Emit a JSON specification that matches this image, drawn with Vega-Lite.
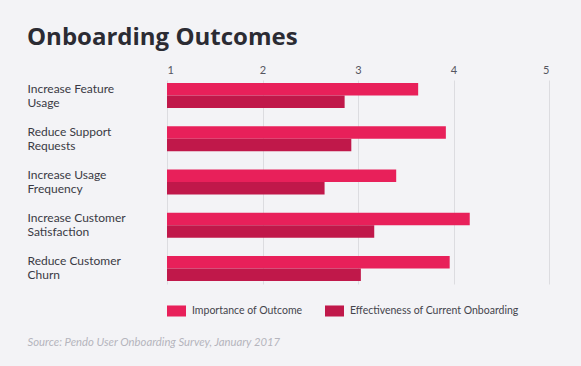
{
  "$schema": "https://vega.github.io/schema/vega-lite/v6.json",
  "autosize": {"type": "none"},
  "width": 382,
  "height": 204,
  "padding": {"left": 167, "top": 80, "right": 32, "bottom": 82},
  "background": "#f3f3f6",
  "config": {"view": {"stroke": null}, "font": "Lato"},
  "title": {
    "text": "Onboarding Outcomes",
    "anchor": "start",
    "frame": "group",
    "dx": -140,
    "offset": 14,
    "fontSize": 24,
    "font": "Open Sans",
    "fontWeight": "bold",
    "color": "#2b2b33"
  },
  "data": {
    "values": [
      {"outcome": "Increase Feature Usage", "measure": "Importance of Outcome", "score": 3.63},
      {"outcome": "Increase Feature Usage", "measure": "Effectiveness of Current Onboarding", "score": 2.86},
      {"outcome": "Reduce Support Requests", "measure": "Importance of Outcome", "score": 3.92},
      {"outcome": "Reduce Support Requests", "measure": "Effectiveness of Current Onboarding", "score": 2.93},
      {"outcome": "Increase Usage Frequency", "measure": "Importance of Outcome", "score": 3.40},
      {"outcome": "Increase Usage Frequency", "measure": "Effectiveness of Current Onboarding", "score": 2.65},
      {"outcome": "Increase Customer Satisfaction", "measure": "Importance of Outcome", "score": 4.17},
      {"outcome": "Increase Customer Satisfaction", "measure": "Effectiveness of Current Onboarding", "score": 3.17},
      {"outcome": "Reduce Customer Churn", "measure": "Importance of Outcome", "score": 3.96},
      {"outcome": "Reduce Customer Churn", "measure": "Effectiveness of Current Onboarding", "score": 3.03}
    ]
  },
  "mark": {"type": "bar"},
  "encoding": {
    "y": {
      "field": "outcome",
      "type": "nominal",
      "sort": null,
      "scale": {"paddingInner": 0.42, "paddingOuter": 0.07},
      "axis": {
        "domain": false,
        "ticks": false,
        "labelAlign": "left",
        "labelPadding": 140,
        "labelOffset": -7,
        "labelFontSize": 12,
        "labelColor": "#3a3a44",
        "labelLineHeight": 14,
        "labelExpr": "[slice(datum.label, 0, lastindexof(datum.label, ' ')), slice(datum.label, lastindexof(datum.label, ' ') + 1)]",
        "title": "Source: Pendo User Onboarding Survey, January 2017",
        "titleAngle": 0,
        "titleAlign": "left",
        "titleBaseline": "alphabetic",
        "titleX": -140,
        "titleY": 265,
        "titleFont": "Lato",
        "titleFontStyle": "italic",
        "titleFontWeight": "normal",
        "titleFontSize": 11.3,
        "titleColor": "#b5b5bd"
      }
    },
    "yOffset": {"field": "measure", "type": "nominal", "sort": null},
    "x": {
      "field": "score",
      "type": "quantitative",
      "scale": {"domain": [1, 5]},
      "axis": {
        "orient": "top",
        "values": [1, 2, 3, 4, 5],
        "format": "d",
        "grid": true,
        "gridColor": "#dcdce0",
        "domain": false,
        "ticks": false,
        "labelPadding": 5,
        "labelFontSize": 11,
        "labelColor": "#555560",
        "title": null
      }
    },
    "x2": {"datum": 1},
    "color": {
      "field": "measure",
      "type": "nominal",
      "sort": null,
      "scale": {
        "domain": ["Importance of Outcome", "Effectiveness of Current Onboarding"],
        "range": ["#e8205a", "#c0184a"]
      },
      "legend": {
        "orient": "bottom",
        "direction": "horizontal",
        "title": null,
        "offset": 17,
        "symbolType": "M-1,-0.58H1V0.58H-1Z",
        "symbolSize": 361,
        "symbolStrokeWidth": 0,
        "symbolOpacity": 1,
        "labelFontSize": 10.5,
        "labelColor": "#44444c",
        "labelOffset": 6,
        "labelLimit": 300,
        "columnPadding": 22
      }
    }
  }
}
